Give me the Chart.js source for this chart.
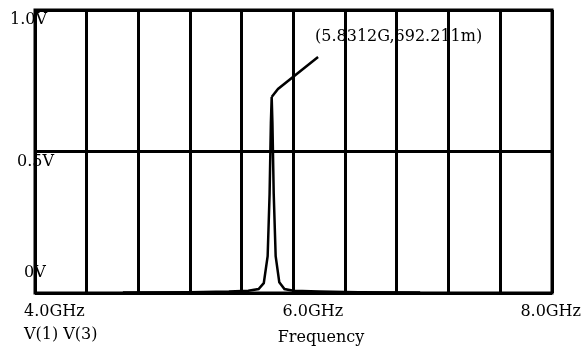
<!DOCTYPE html>
<html lang="en">
<head>
    <meta charset="UTF-8">
    <title>V(1) V(3) vs Frequency</title>
    <script src="https://cdn.jsdelivr.net/npm/chart.js"></script>
    <style>
        html, body { margin: 0; padding: 0; background: white; }
        #wrap { width: 582px; height: 352px; }
    </style>
</head>
<body>
    <div id="wrap"><canvas id="graphCanvas" width="582" height="352"></canvas></div>

    <script>
        // trace V(1) V(3), frequency in GHz, volts
        const freqGHz = [4.68, 5.2, 5.5, 5.65, 5.73, 5.77, 5.80, 5.815, 5.825, 5.8312, 5.837, 5.847, 5.862, 5.89, 5.93, 6.0, 6.2, 6.5, 6.98];
        const volts   = [0.002, 0.003, 0.005, 0.008, 0.014, 0.035, 0.13, 0.35, 0.6, 0.6922, 0.6, 0.35, 0.13, 0.038, 0.014, 0.008, 0.005, 0.003, 0.002];

        // cursor marker line from the peak to its label
        const cursorX = [5.8312, 5.880, 6.190];
        const cursorY = [0.6922, 0.721, 0.834];
        const cursorText = "(5.8312G,692.211m)";

        const xTickValues = [4, 6, 8];
        const xTickLabels = ["4.0GHz", "6.0GHz", "8.0GHz"];
        const yTickValues = [1, 0.5, 0];
        const yTickLabels = ["1.0V", "0.5V", "0V"];
        const traceName = "V(1) V(3)";
        const xTitle = "Frequency";

        const FONT = '16px "DejaVu Serif"';

        const labelsPlugin = {
            id: 'labels',
            afterDraw(chart) {
                const ctx = chart.ctx;
                const xs = chart.scales.x, ys = chart.scales.y;
                const a = chart.chartArea;
                ctx.save();
                // frame
                ctx.strokeStyle = '#000';
                ctx.lineWidth = 3;
                ctx.strokeRect(a.left, a.top, a.right - a.left, a.bottom - a.top);

                ctx.fillStyle = '#000';
                ctx.font = FONT;
                ctx.textBaseline = 'middle';

                // y labels sit on the plot, just inside the left edge
                const yOff = [[-25, 10], [-18, 10], [-11, -20]];
                yTickValues.forEach((v, i) => {
                    ctx.textAlign = 'left';
                    ctx.fillText(yTickLabels[i], a.left + yOff[i][0], ys.getPixelForValue(v) + yOff[i][1]);
                });

                // x labels
                xTickValues.forEach((v, i) => {
                    const px = xs.getPixelForValue(v);
                    if (i === xTickValues.length - 1) {
                        ctx.textAlign = 'right';
                        ctx.fillText(xTickLabels[i], chart.width - 1, a.bottom + 19);
                    } else {
                        ctx.textAlign = 'left';
                        ctx.fillText(xTickLabels[i], px - 11, a.bottom + 19);
                    }
                });

                ctx.textAlign = 'left';
                ctx.fillText(traceName, a.left - 11, a.bottom + 42);
                ctx.textAlign = 'center';
                ctx.fillText(xTitle, a.left + 286, a.bottom + 45);

                // cursor label
                const last = cursorX.length - 1;
                ctx.textAlign = 'left';
                ctx.fillText(cursorText, xs.getPixelForValue(cursorX[last]) - 3, ys.getPixelForValue(cursorY[last]) - 20);
                ctx.restore();
            }
        };

        new Chart(document.getElementById("graphCanvas"), {
            type: 'line',
            data: {
                datasets: [{
                    data: freqGHz.map((f, i) => ({ x: f, y: volts[i] })),
                    borderColor: '#000',
                    borderWidth: 2.5,
                    pointRadius: 0,
                    tension: 0,
                    fill: false
                }, {
                    data: cursorX.map((f, i) => ({ x: f, y: cursorY[i] })),
                    borderColor: '#000',
                    borderWidth: 2.5,
                    pointRadius: 0,
                    tension: 0,
                    fill: false
                }]
            },
            options: {
                responsive: false,
                animation: false,
                layout: { padding: { left: 35, right: 30, top: 10, bottom: 59 } },
                plugins: { legend: { display: false }, tooltip: { enabled: false } },
                scales: {
                    x: {
                        type: 'linear', min: 4, max: 8,
                        ticks: { display: false, stepSize: 0.4 },
                        grid: { color: '#000', lineWidth: 3, drawTicks: false },
                        border: { display: false }
                    },
                    y: {
                        min: 0, max: 1,
                        ticks: { display: false, stepSize: 0.5 },
                        grid: { color: '#000', lineWidth: 3, drawTicks: false },
                        border: { display: false }
                    }
                }
            },
            plugins: [labelsPlugin]
        });
    </script>
</body>
</html>
